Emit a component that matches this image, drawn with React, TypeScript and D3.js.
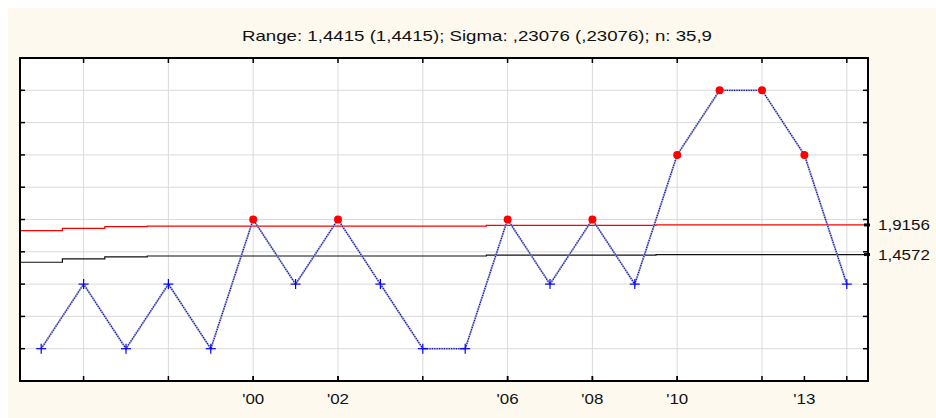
import React from "react";
import * as d3 from "d3";

// Yearly range values
const years = [1995, 1996, 1997, 1998, 1999, 2000, 2001, 2002, 2003, 2004, 2005, 2006, 2007, 2008, 2009, 2010, 2011, 2012, 2013, 2014];
const ranges = [0, 1, 0, 1, 0, 2, 1, 2, 1, 0, 0, 2, 1, 2, 1, 3, 4, 4, 3, 1];

// Step-wise centre line and upper control limit per year
const centerLine = [1.338, 1.389, 1.42, 1.435, 1.435, 1.435, 1.435, 1.435, 1.435, 1.435, 1.435, 1.448, 1.448, 1.448, 1.448, 1.4572, 1.4572, 1.4572, 1.4572, 1.4572];
const upperLimit = [1.827, 1.864, 1.889, 1.899, 1.899, 1.899, 1.899, 1.899, 1.899, 1.899, 1.899, 1.91, 1.91, 1.91, 1.91, 1.9156, 1.9156, 1.9156, 1.9156, 1.9156];

const gridYears = [1996, 1998, 2000, 2002, 2004, 2006, 2008, 2010, 2012, 2014];
const labelYears = [2000, 2002, 2006, 2008, 2010, 2013];
const yTicks = [0, 0.5, 1, 1.5, 2, 2.5, 3, 3.5, 4];
const limitLabels = [
  { value: 1.9156, text: "1,9156" },
  { value: 1.4572, text: "1,4572" },
];
const title = "Range: 1,4415 (1,4415); Sigma: ,23076 (,23076); n: 35,9";

const W = 928;
const H = 410;
const left = 12;
const right = 860;
const top = 50;
const bottom = 373;
const font = "'Liberation Sans', Arial, sans-serif";
const stretch = 1.13;

function WideText(props: { x: number; y: number; anchor?: string; size: number; children: React.ReactNode }) {
  return (
    <text
      transform={`translate(${props.x},${props.y}) scale(${stretch},1)`}
      textAnchor={props.anchor || "start"}
      fontFamily={font}
      fontSize={props.size}
      fill="#111"
    >
      {props.children}
    </text>
  );
}

export default function App() {
  const x = d3.scaleLinear().domain([1994.5, 2014.5]).range([left, right]);
  const y = d3.scaleLinear().domain([-0.5, 4.5]).range([bottom, top]);

  const line = d3
    .line<number>()
    .x((_, i) => x(years[i]))
    .y((d) => y(d));
  const dataPath = line(ranges) || "";

  // step line spanning half a year either side of each point
  const stepPath = (vals: number[]) => {
    const pts: [number, number][] = [];
    vals.forEach((v, i) => {
      pts.push([x(years[i] - 0.5), y(v)]);
      pts.push([x(years[i] + 0.5), y(v)]);
    });
    return d3.line()(pts) || "";
  };

  return (
    <svg width={W} height={H} style={{ display: "block", position: "absolute", left: 8, top: 8 }}>
      <rect x={0} y={0} width={W} height={H} fill="#fdf9ee" />
      <text
        x={469}
        y={33}
        textAnchor="middle"
        fontFamily={font}
        fontSize={14.5}
        fill="#111"
        textLength={470}
        lengthAdjust="spacingAndGlyphs"
      >
        {title}
      </text>
      <rect x={left} y={top} width={right - left} height={bottom - top} fill="#ffffff" />
      {/* grid */}
      {yTicks.map((t) => (
        <line key={"gy" + t} x1={left} x2={right} y1={y(t)} y2={y(t)} stroke="#dadada" strokeWidth={1} />
      ))}
      {gridYears.map((yr) => (
        <line key={"gx" + yr} x1={x(yr)} x2={x(yr)} y1={top} y2={bottom} stroke="#dadada" strokeWidth={1} />
      ))}
      {/* control lines */}
      <path d={stepPath(upperLimit)} fill="none" stroke="#ff0000" strokeWidth={1.2} />
      <path d={stepPath(centerLine)} fill="none" stroke="#111" strokeWidth={1.2} />
      {/* data line */}
      <path d={dataPath} fill="none" stroke="#9aa2de" strokeWidth={2} opacity={0.75} />
      <path d={dataPath} fill="none" stroke="#14148e" strokeWidth={1.3} strokeDasharray="1.2,1.2" />
      {ranges.map((v, i) => {
        const cx = x(years[i]);
        const cy = y(v);
        if (v > upperLimit[i]) {
          return <circle key={"m" + i} cx={cx} cy={cy} r={4} fill="#ff0000" />;
        }
        return (
          <g key={"m" + i} stroke="#0000ff" strokeWidth={1.2}>
            <line x1={cx - 5} x2={cx + 5} y1={cy} y2={cy} />
            <line x1={cx} x2={cx} y1={cy - 5} y2={cy + 5} />
          </g>
        );
      })}
      {/* ticks */}
      {yTicks.map((t) => (
        <g key={"ty" + t} stroke="#000" strokeWidth={1.5}>
          <line x1={left} x2={left + 5} y1={y(t)} y2={y(t)} />
          <line x1={right - 5} x2={right} y1={y(t)} y2={y(t)} />
        </g>
      ))}
      {gridYears.map((yr) => (
        <g key={"tx" + yr} stroke="#000" strokeWidth={1.5}>
          <line x1={x(yr)} x2={x(yr)} y1={top} y2={top + 5} />
          <line x1={x(yr)} x2={x(yr)} y1={bottom - 5} y2={bottom} />
        </g>
      ))}
      {labelYears.map((yr) => (
        <g key={"lx" + yr}>
          <line x1={x(yr)} x2={x(yr)} y1={bottom - 5} y2={bottom} stroke="#000" strokeWidth={1.5} />
          <WideText x={x(yr)} y={396} anchor="middle" size={15}>
            {"'" + String(yr).slice(2)}
          </WideText>
        </g>
      ))}
      {limitLabels.map((l) => (
        <g key={l.text}>
          <line x1={right - 4} x2={right + 2} y1={y(l.value)} y2={y(l.value)} stroke="#000" strokeWidth={3} />
          <WideText x={870} y={y(l.value) + 5} size={15}>
            {l.text}
          </WideText>
        </g>
      ))}
      <rect x={left} y={top} width={right - left} height={bottom - top} fill="none" stroke="#000" strokeWidth={2} />
    </svg>
  );
}
